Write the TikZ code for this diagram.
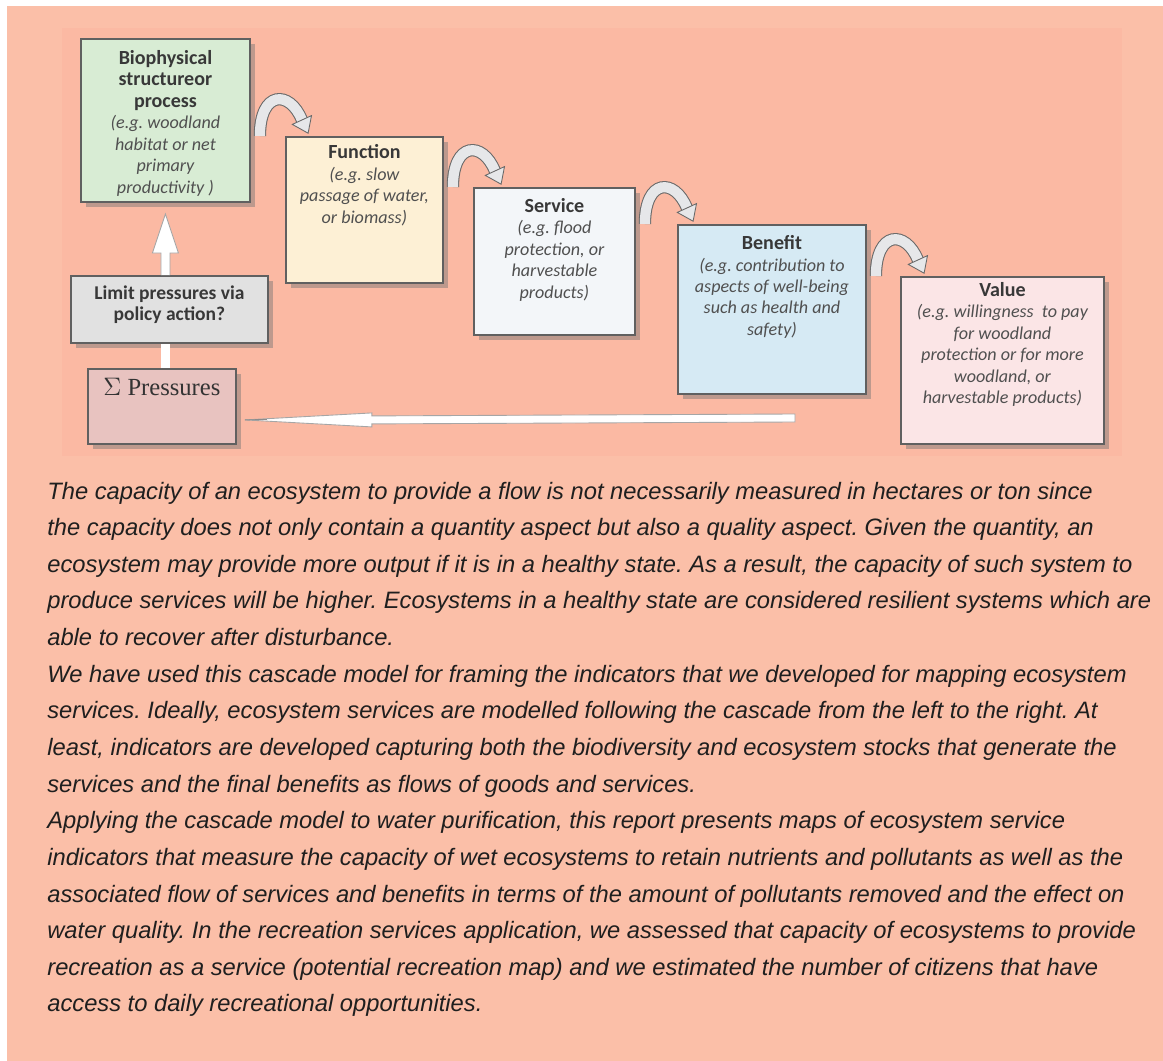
\documentclass[tikz,border=0pt]{standalone}
\usepackage{fontspec}
\setmainfont{Liberation Sans}
\newfontfamily\boxfont{Carlito}
\newfontfamily\pressfont{Liberation Serif}
\usetikzlibrary{calc,shadows}
\frenchspacing
\definecolor{bgsalmon}{HTML}{FBBFA8}
\definecolor{bginner}{HTML}{FBB9A3}
\definecolor{boxline}{HTML}{606060}
\definecolor{biofill}{HTML}{D8ECD4}
\definecolor{funcfill}{HTML}{FDF0D5}
\definecolor{servfill}{HTML}{F3F6F9}
\definecolor{benfill}{HTML}{D6EAF4}
\definecolor{valfill}{HTML}{FBE5E6}
\definecolor{limfill}{HTML}{E1E1E1}
\definecolor{presfill}{HTML}{E8C3C0}
\definecolor{titlecol}{HTML}{383838}
\definecolor{excol}{HTML}{505050}
\definecolor{arrowfill}{HTML}{E6E7E9}
\definecolor{arrowline}{HTML}{6A6A6A}
\newcommand{\bt}[1]{{\fontsize{11.4}{12.2}\selectfont\bfseries\color{titlecol}#1}}
\newcommand{\ex}[1]{{\fontsize{10.3}{12.2}\selectfont\itshape\color{excol}#1}}
\newcommand{\boxtxt}[4]{\parbox[c][#2][t]{#1}{\centering\boxfont\fontsize{11.4}{12.2}\selectfont\frenchspacing\vspace*{#3}#4}}
\tikzset{
  cbox/.style={draw=boxline, line width=1.1pt, inner sep=0pt, anchor=north west,
    drop shadow={shadow xshift=0.11cm, shadow yshift=-0.11cm, fill=black!55, opacity=0.45}},
  blockarrow/.style={fill=white, draw=black!35, line width=0.5pt},
  bodytext/.style={anchor=base west, inner sep=0pt, font=\fontsize{13.5}{15}\selectfont\itshape, text=black!88},
  curl/.pic={
    \draw[line width=0.6pt, draw=arrowline, double=arrowfill, double distance=5.8pt]
      (6,0) .. controls (6,-46) and (36,-46) .. (48,-16);
    \filldraw[fill=arrowfill, draw=arrowline, line width=0.5pt]
      (57.6,-20.4) -- (54.2,-2.8) -- (38.4,-11.6) -- cycle;
  }
}
\begin{document}
\begin{tikzpicture}[x=0.02cm, y=-0.02cm]
\useasboundingbox (0,0) rectangle (1163,1061);
\fill[white] (0,0) rectangle (1163,1061);
\fill[bgsalmon] (7,6) rectangle (1163,1061);
\fill[bginner] (62,28) rectangle (1122,456);

% boxes
\node[cbox, fill=biofill] (bio) at (80,38)
  {\boxtxt{3.38cm}{3.26cm}{6.5pt}{\bt{Biophysical\\structureor\\process}\\\ex{(e.g. woodland\\habitat or net\\primary\\productivity )}}};
\node[cbox, fill=funcfill] (func) at (285,136)
  {\boxtxt{3.14cm}{2.92cm}{4.5pt}{\bt{Function}\\\ex{(e.g. slow\\passage of water,\\or biomass)}}};
\node[cbox, fill=servfill] (serv) at (473,187)
  {\boxtxt{3.22cm}{2.94cm}{6pt}{\bt{Service}\\\ex{(e.g. flood\\protection, or\\harvestable\\products)}}};
\node[cbox, fill=benfill] (ben) at (677,224)
  {\boxtxt{3.76cm}{3.38cm}{6pt}{\bt{Benefit}\\\ex{(e.g. contribution to\\aspects of well-being\\such as health and\\safety)}}};
\node[cbox, fill=valfill] (val) at (900,276)
  {\boxtxt{4.06cm}{3.34cm}{3pt}{\bt{Value}\\\ex{(e.g. willingness\ \ to pay\\for woodland\\protection or for more\\woodland, or\\harvestable products)}}};
\node[cbox, fill=limfill] (lim) at (70,275)
  {\boxtxt{3.94cm}{1.34cm}{5.5pt}{{\fontsize{11.1}{11.6}\selectfont\bfseries\color{titlecol}Limit pressures via\\policy action?}}};
\node[cbox, fill=presfill] (pres) at (87,368)
  {\parbox[c][1.5cm][t]{2.96cm}{\centering\vspace*{5.5pt}\pressfont\fontsize{14}{16}\selectfont\color{black!80}$\Sigma$ Pressures}};

% curved arrows between the cascade boxes
\pic at ($(bio.east |- func.north)+(3,0)$) {curl};
\pic at ($(func.east |- serv.north)+(3,0)$) {curl};
\pic at ($(serv.east |- ben.north)+(3,0)$) {curl};
\pic at ($(ben.east |- val.north)+(3,0)$) {curl};

% up arrow from policy box to biophysical box
\coordinate (upTail) at (bio.south |- lim.north);
\begin{scope}[shift={(upTail)}]
  \draw[blockarrow] (-4.5,0) -- (-4.5,-22) -- (-13,-22) -- (0,-61) -- (13,-22) -- (4.5,-22) -- (4.5,0);
\end{scope}
% bar from pressures to policy box
\draw[white, line width=5.4pt] (pres.north -| upTail) -- (lim.south -| upTail);

% long arrow back to pressures
\coordinate (hTip) at ($(pres.south east)+(8,-25)$);
\coordinate (hTail) at (795,418);
\filldraw[blockarrow] (hTail) ++(0,-4) -- ($(hTip)+(127,-4)$) -- ($(hTip)+(127,-7)$) -- (hTip)
  -- ($(hTip)+(127,7)$) -- ($(hTip)+(127,4)$) -- ($(hTail)+(0,4)$) -- cycle;
\draw[black!45, line width=0.5pt] (hTip) -- ++(22,-0.5);

% body text
\foreach \t [count=\i] in {
  {The capacity of an ecosystem to provide a flow is not necessarily measured in hectares or ton since},
  {the capacity does not only contain a quantity aspect but also a quality aspect. Given the quantity, an},
  {ecosystem may provide more output if it is in a healthy state. As a result, the capacity of such system to},
  {produce services will be higher. Ecosystems in a healthy state are considered resilient systems which are},
  {able to recover after disturbance.},
  {We have used this cascade model for framing the indicators that we developed for mapping ecosystem},
  {services. Ideally, ecosystem services are modelled following the cascade from the left to the right. At},
  {least, indicators are developed capturing both the biodiversity and ecosystem stocks that generate the},
  {services and the final benefits as flows of goods and services.},
  {Applying the cascade model to water purification, this report presents maps of ecosystem service},
  {indicators that measure the capacity of wet ecosystems to retain nutrients and pollutants as well as the},
  {associated flow of services and benefits in terms of the amount of pollutants removed and the effect on},
  {water quality. In the recreation services application, we assessed that capacity of ecosystems to provide},
  {recreation as a service (potential recreation map) and we estimated the number of citizens that have},
  {access to daily recreational opportunities.}
}{
  \node[bodytext] (l\i) at (47, {499+36.64*(\i-1)}) {\t};
}
\end{tikzpicture}
\end{document}
